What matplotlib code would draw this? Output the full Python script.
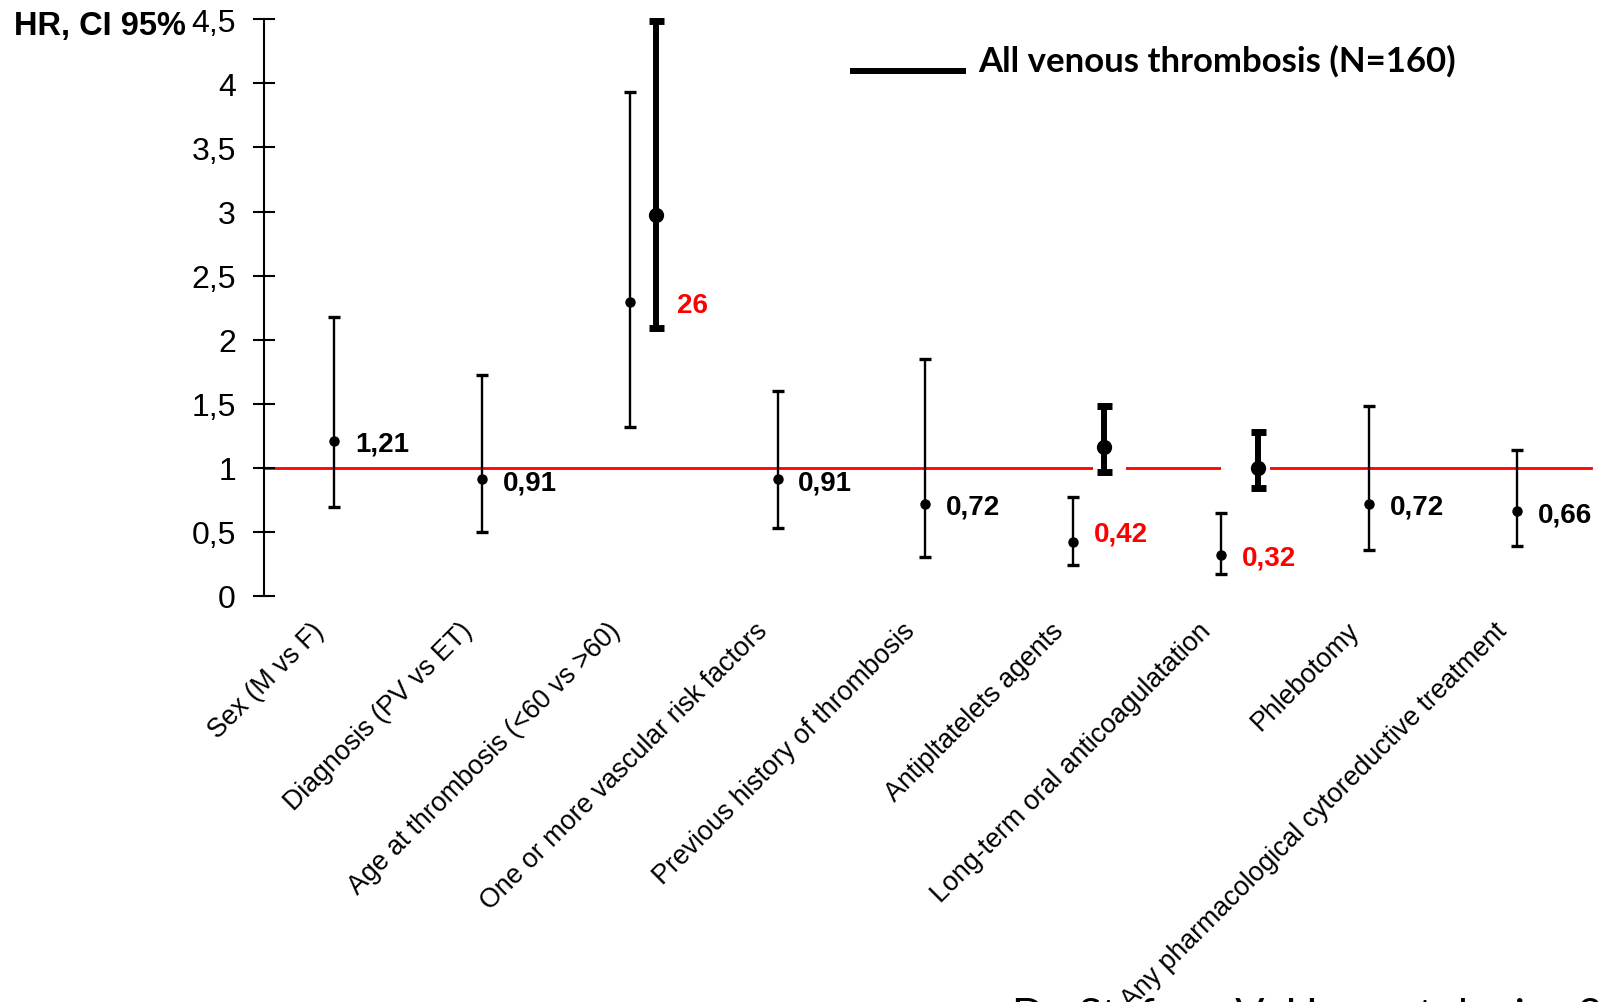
import matplotlib
matplotlib.use("Agg")
import matplotlib.pyplot as plt
import matplotlib.transforms as mtransforms

categories = [
    "Sex (M vs F)",
    "Diagnosis (PV vs ET)",
    "Age at thrombosis (<60 vs >60)",
    "One or more vascular risk factors",
    "Previous history of thrombosis",
    "Antipltatelets agents",
    "Long-term oral anticoagulatation",
    "Phlebotomy",
    "Any pharmacological cytoreductive treatment",
]

# hazard ratios with 95% CI, all thrombosis
hr = [1.21, 0.91, 2.29, 0.91, 0.72, 0.42, 0.32, 0.72, 0.66]
ci_low = [0.69, 0.50, 1.32, 0.53, 0.30, 0.24, 0.17, 0.36, 0.39]
ci_high = [2.18, 1.72, 3.93, 1.60, 1.85, 0.77, 0.65, 1.48, 1.14]
hr_labels = ["1,21", "0,91", "", "0,91", "0,72", "0,42", "0,32", "0,72", "0,66"]
significant = [False, False, False, False, False, True, True, False, False]

# venous thrombosis subset (N=160)
ven_idx = [2, 5, 6]
ven_hr = [2.97, 1.16, 1.00]
ven_low = [2.09, 0.97, 0.84]
ven_high = [4.49, 1.48, 1.28]
ven_shift = [0.18, 0.21, 0.25]

fig = plt.figure(figsize=(16.02, 10.03), dpi=100)
ax = fig.add_axes([0.1646, 0.405, 0.8284, 0.5747])
ax.set_xlim(-0.476, 8.5)
ax.set_ylim(0, 4.5)

for s in ["top", "right", "bottom"]:
    ax.spines[s].set_visible(False)
ax.spines["left"].set_linewidth(1.5)

ax.set_yticks([0, 0.5, 1, 1.5, 2, 2.5, 3, 3.5, 4, 4.5])
ax.set_yticklabels(["0", "0,5", "1", "1,5", "2", "2,5", "3", "3,5", "4", "4,5"],
                   fontsize=23, family="Liberation Sans")
ax.tick_params(axis="y", direction="inout", length=16, width=1.5, pad=12)
ax.tick_params(axis="x", length=0)

# reference line at HR = 1, broken behind the thick bars
ax.plot([-0.476, 8.5], [1, 1], color="red", lw=2, zorder=1, clip_on=False)
for x0, x1 in [(5.13, 5.355), (6.0, 6.33)]:
    ax.fill_between([x0, x1], 0.97, 1.03, color="white", lw=0, zorder=2)

xs = list(range(len(categories)))
ax.errorbar(xs, hr, yerr=[[h - l for h, l in zip(hr, ci_low)],
                          [u - h for h, u in zip(hr, ci_high)]],
            fmt="o", color="black", ms=6.5, elinewidth=1.7,
            capsize=4, capthick=2.4, zorder=3, clip_on=False)

vx = [xs[i] + d for i, d in zip(ven_idx, ven_shift)]
ax.errorbar(vx, ven_hr, yerr=[[h - l for h, l in zip(ven_hr, ven_low)],
                              [u - h for h, u in zip(ven_hr, ven_high)]],
            fmt="o", color="black", ms=10, elinewidth=4.3,
            capsize=5.4, capthick=5, zorder=3, clip_on=False)

for x, y, lab, sig in zip(xs, hr, hr_labels, significant):
    if lab:
        dy = 0.07 if lab == "0,42" else -0.025
        ax.text(x + 0.14, y + dy, lab, fontsize=20, fontweight="bold",
                family="Liberation Sans", color="red" if sig else "black",
                va="center", ha="left")

ax.text(vx[0] + 0.14, 2.27, "26", fontsize=20, fontweight="bold",
        family="Liberation Sans", color="red", va="center", ha="left")

ax.set_xticks(xs)
ax.set_xticklabels(categories, rotation=45, ha="right", va="center",
                   rotation_mode="anchor", fontsize=19.3, family="Liberation Sans")
ax.tick_params(axis="x", pad=22)
shift = mtransforms.ScaledTranslation(-10 / 72, 0, fig.dpi_scale_trans)
for lbl in ax.get_xticklabels():
    lbl.set_transform(lbl.get_transform() + shift)

fig.text(14 / 1602, 1 - 35 / 1003, "HR, CI 95%", fontsize=23.5, fontweight="bold",
         family="Liberation Sans", va="baseline", ha="left")

# legend entry
fig.add_artist(plt.Line2D([853 / 1602, 963 / 1602], [1 - 71.5 / 1003] * 2,
                          color="black", lw=4.3, transform=fig.transFigure))
fig.text(978 / 1602, 1 - 61 / 1003, "All venous thrombosis (N=160)",
         fontsize=25, fontweight="bold", family="Lato", va="center", ha="left")

fig.text(1012 / 1602, -0.026, "De Stefano V, Haematologica 2008",
         fontsize=31, family="Lato", va="baseline", ha="left")

fig.savefig("out.png", dpi=100)
